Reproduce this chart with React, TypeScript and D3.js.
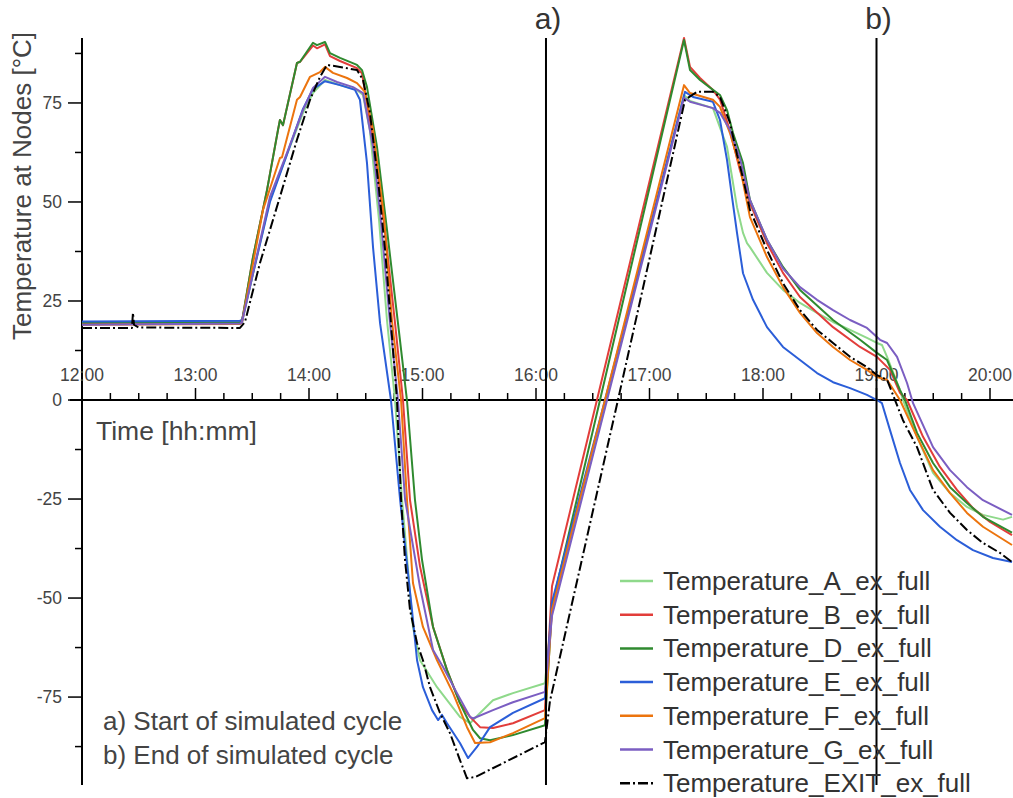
import React from "react";
import * as d3 from "d3";

// time in decimal hours, value in °C
const seriesA: [number, number][] = [
  [12.0, 19.4], [13.392, 19.5], [13.41, 19.7], [13.656, 50.5], [13.806, 62.0], [13.947, 72.5], [14.035, 77.5],
  [14.141, 80.8], [14.273, 79.5], [14.423, 78.3], [14.476, 77.0], [14.537, 68.0], [14.617, 45.5], [14.687, 20.2],
  [14.758, 0], [14.819, -25], [14.916, -57.3], [14.978, -65.7], [15.128, -72.5], [15.33, -80.0], [15.419, -81.6],
  [15.507, -79.0], [15.621, -75.8], [15.797, -74.0], [16.079, -71.5], [16.141, -53], [16.617, 0], [17.304, 77.0],
  [17.357, 75.5], [17.559, 73.7], [17.683, 63.9], [17.727, 56.3], [17.771, 48.7], [17.824, 42.2], [17.859, 39.6],
  [17.885, 38.6], [18.035, 32.1], [18.176, 27.8], [18.326, 24.5], [18.476, 22.0], [18.617, 19.7], [18.767, 17.7],
  [18.916, 15.7], [19.004, 14.4], [19.048, 13.9], [19.093, 10.9], [19.207, 2.5], [19.233, 0], [19.357, -9.3],
  [19.498, -18.4], [19.648, -23.5], [19.797, -27.0], [19.938, -29.0], [20.115, -30.2], [20.194, -29.5],
];

const seriesB: [number, number][] = [
  [12.0, 19.3], [13.392, 19.5], [13.41, 19.8], [13.507, 36.1], [13.63, 53.0], [13.727, 68.2], [13.744, 70.7],
  [13.771, 69.4], [13.894, 85.1], [13.921, 85.4], [14.035, 89.5], [14.07, 88.8], [14.141, 89.8], [14.185, 86.8],
  [14.273, 85.6], [14.423, 83.8], [14.467, 82.5], [14.493, 78.0], [14.581, 63.0], [14.67, 42.5], [14.758, 19.4],
  [14.828, 0], [14.89, -25.3], [14.978, -42], [15.093, -57.3], [15.216, -68.2], [15.33, -76.5], [15.419, -80.0],
  [15.507, -82.6], [15.621, -82.8], [15.797, -81.6], [16.079, -78.3], [16.141, -47], [16.537, 0], [17.304, 91.4],
  [17.357, 84.1], [17.445, 81.3], [17.559, 78.3], [17.621, 75.8], [17.709, 68], [17.797, 58], [17.885, 49.7],
  [18.035, 39.6], [18.176, 32.1], [18.326, 26.0], [18.617, 18.4], [18.855, 13.4], [19.004, 10.9], [19.119, 7.6],
  [19.207, 1.8], [19.269, 0], [19.41, -9.3], [19.559, -16.9], [19.709, -22.7], [19.85, -27.3], [20.0, -30.8],
  [20.194, -34.1],
];

const seriesD: [number, number][] = [
  [12.0, 19.5], [13.392, 19.7], [13.41, 20.0], [13.507, 36.1], [13.63, 53.0], [13.727, 68.2], [13.744, 70.7],
  [13.771, 69.4], [13.894, 85.1], [13.921, 85.4], [14.035, 90.2], [14.07, 89.6], [14.141, 90.4], [14.185, 87.6],
  [14.273, 86.4], [14.423, 84.6], [14.467, 83.3], [14.511, 79.0], [14.599, 63.9], [14.687, 43.0], [14.784, 19.4],
  [14.863, 0], [14.934, -25.3], [14.996, -40.4], [15.093, -57.3], [15.216, -68.2], [15.33, -76.5], [15.445, -83.3],
  [15.507, -85.4], [15.595, -85.9], [15.797, -84.6], [16.079, -82.1], [16.141, -52], [16.564, 0], [17.304, 90.9],
  [17.357, 83.3], [17.445, 80.8], [17.559, 78.3], [17.621, 77.0], [17.683, 73.2], [17.736, 67.4], [17.824, 59.8],
  [17.885, 50.5], [18.035, 40.4], [18.176, 33.6], [18.326, 27.8], [18.617, 20.2], [18.855, 15.2], [19.004, 11.9],
  [19.093, 10.1], [19.207, 2.5], [19.251, 0], [19.357, -8.3], [19.498, -15.9], [19.648, -22.0], [19.797, -26.0],
  [19.938, -29.5], [20.194, -33.5],
];

const seriesE: [number, number][] = [
  [12.0, 19.8], [13.392, 20.0], [13.41, 20.2], [13.656, 50.0], [13.806, 62.0], [13.947, 73.5], [14.035, 78.5],
  [14.141, 80.5], [14.273, 79.5], [14.405, 78.3], [14.449, 75.8], [14.511, 59.8], [14.564, 38.6], [14.626, 19.4],
  [14.722, 0], [14.802, -25], [14.907, -53.0], [14.952, -65.7], [15.004, -72.5], [15.084, -78.3], [15.137, -80.8],
  [15.172, -79.5], [15.216, -81.6], [15.33, -86.6], [15.401, -90.4], [15.48, -87.6], [15.595, -82.6], [15.797, -79.0],
  [16.079, -75.3], [16.141, -51], [16.608, 0], [17.313, 77.8], [17.383, 76.5], [17.559, 75.3], [17.621, 70.7],
  [17.683, 60.6], [17.727, 51.3], [17.771, 42.2], [17.824, 32.0], [17.912, 25.3], [18.035, 18.4], [18.176, 13.4],
  [18.326, 10.1], [18.476, 6.8], [18.617, 4.5], [18.767, 3.0], [18.916, 1.3], [19.004, 0], [19.048, -0.8],
  [19.119, -7.6], [19.207, -15.9], [19.295, -22.7], [19.41, -27.8], [19.559, -32.0], [19.709, -35.4], [19.85, -37.9],
  [20.026, -39.9], [20.194, -40.9],
];

const seriesF: [number, number][] = [
  [12.0, 19.0], [13.392, 19.2], [13.41, 19.6], [13.595, 48.0], [13.744, 61.1], [13.762, 61.3], [13.894, 75.8],
  [13.921, 76.5], [14.009, 81.6], [14.097, 82.8], [14.141, 84.1], [14.211, 82.6], [14.335, 81.3], [14.423, 80.0],
  [14.493, 77.8], [14.564, 68.2], [14.661, 46.2], [14.731, 20.0], [14.811, 0], [14.863, -25], [14.916, -46.2],
  [15.004, -57.3], [15.128, -65.7], [15.269, -74.0], [15.392, -82.6], [15.463, -86.6], [15.595, -86.4],
  [15.797, -84.1], [16.079, -80.3], [16.141, -53], [16.608, 0], [17.304, 79.5], [17.357, 77.5], [17.559, 75.8],
  [17.621, 74.0], [17.709, 67.4], [17.797, 58.8], [17.885, 46.2], [18.035, 36.1], [18.176, 28.5], [18.326, 22.0],
  [18.476, 16.9], [18.617, 13.4], [18.767, 10.1], [18.916, 7.6], [19.004, 5.8], [19.093, 5.1], [19.207, 0],
  [19.357, -9.3], [19.498, -17.7], [19.648, -23.5], [19.797, -28.5], [19.938, -32.0], [20.194, -36.6],
];

const seriesG: [number, number][] = [
  [12.0, 19.0], [13.392, 19.3], [13.41, 19.6], [13.656, 51.3], [13.806, 62.4], [13.947, 73.2], [14.035, 78.8],
  [14.141, 81.6], [14.247, 80.3], [14.388, 79.0], [14.476, 77.5], [14.564, 63.9], [14.634, 45.0], [14.714, 19.4],
  [14.784, 0], [14.846, -25], [14.978, -47.2], [15.093, -63.1], [15.181, -67.4], [15.304, -74.0], [15.419, -80.0],
  [15.445, -80.4], [15.621, -78.3], [15.797, -76.3], [16.079, -73.7], [16.141, -54.5], [16.626, 0], [17.304, 76.3],
  [17.357, 75.3], [17.559, 73.7], [17.621, 72.5], [17.709, 68.2], [17.797, 61.0], [17.885, 50.5], [18.035, 40.5],
  [18.176, 33.2], [18.326, 28.5], [18.476, 25.3], [18.617, 22.7], [18.767, 20.2], [18.916, 18.2], [19.031, 15.2],
  [19.093, 14.4], [19.181, 10.9], [19.269, 4.3], [19.322, -0.8], [19.498, -11.9], [19.648, -17.7], [19.797, -22.0],
  [19.938, -25.3], [20.194, -29.0],
];

const seriesExit: [number, number][] = [
  [12.0, 18.2], [12.44, 18.2], [12.449, 22.0], [12.458, 19.0], [12.5, 18.3], [13.392, 18.2], [13.436, 19.7],
  [13.568, 34.6], [13.744, 51.3], [13.894, 65.7], [14.009, 75.8], [14.097, 81.6], [14.159, 84.6], [14.273, 84.1],
  [14.423, 83.3], [14.476, 80.8], [14.537, 72.5], [14.608, 55.6], [14.67, 38.0], [14.722, 19.4], [14.775, 0],
  [14.811, -25], [14.846, -40.4], [14.89, -53.0], [14.952, -61.4], [15.004, -65.7], [15.066, -72.5], [15.154, -79.0],
  [15.242, -84.1], [15.33, -90.9], [15.392, -95.5], [15.463, -95.2], [16.079, -86.4], [16.123, -76], [16.722, 0],
  [17.313, 75.8], [17.419, 77.8], [17.559, 77.8], [17.621, 76.5], [17.709, 70.0], [17.771, 62], [17.824, 56],
  [17.885, 48.0], [18.035, 37.9], [18.176, 29.5], [18.326, 22.7], [18.476, 17.7], [18.617, 14.4], [18.767, 10.9],
  [18.916, 8.3], [19.004, 6.3], [19.093, 5.1], [19.163, 0], [19.233, -5.1], [19.357, -11.9], [19.498, -22.7],
  [19.648, -28.5], [19.797, -32.8], [19.938, -36.1], [20.088, -38.6], [20.194, -40.9],
];

const seriesNames = [
  "Temperature_A_ex_full",
  "Temperature_B_ex_full",
  "Temperature_D_ex_full",
  "Temperature_E_ex_full",
  "Temperature_F_ex_full",
  "Temperature_G_ex_full",
  "Temperature_EXIT_ex_full",
];
const seriesColors = ["#8fd98b", "#e23d3a", "#2f8a2f", "#2b5ed8", "#ec740e", "#7b5ec2", "#000000"];
const allSeries = [seriesA, seriesB, seriesD, seriesE, seriesF, seriesG, seriesExit];

const yMajorTicks = [-75, -50, -25, 0, 25, 50, 75];
const yMinorTicks = [-87.5, -62.5, -37.5, -12.5, 12.5, 37.5, 62.5, 87.5];
const xMajorTicks = [12, 13, 14, 15, 16, 17, 18, 19, 20];
const xTickLabels = ["12:00", "13:00", "14:00", "15:00", "16:00", "17:00", "18:00", "19:00", "20:00"];
const markerTimes = [16.088, 19.0];
const markerLabels = ["a)", "b)"];
const notes = ["a) Start of simulated cycle", "b) End of simulated cycle"];

const W = 1013;
const H = 798;
const FONT = "'Liberation Sans', Arial, sans-serif";

export default function App() {
  const x = d3.scaleLinear().domain([12, 20.2]).range([82, 82 + 8.2 * 113.5]);
  const y = d3.scaleLinear().domain([-97.2, 91.4]).range([785, 38]);
  const line = d3
    .line<[number, number]>()
    .x((d) => x(d[0]))
    .y((d) => y(d[1]));

  const xMinor: number[] = [];
  for (let t = 12.25; x(t) <= W; t += 0.25) {
    if (Math.abs(t - Math.round(t)) > 0.01) xMinor.push(t);
  }

  return (
    <svg
      width={W}
      height={H}
      style={{ position: "absolute", left: 0, top: 0, background: "#fff" }}
      fontFamily={FONT}
    >
      <rect x={0} y={0} width={W} height={H} fill="#fff" />
      <defs>
        <clipPath id="plotclip">
          <rect x={82} y={0} width={W - 82} height={790} />
        </clipPath>
      </defs>

      {/* y axis */}
      <line x1={82} x2={82} y1={38} y2={785} stroke="#000" strokeWidth={2} />
      {yMajorTicks.map((v) => (
        <g key={"ym" + v}>
          <line x1={68} x2={82} y1={y(v)} y2={y(v)} stroke="#000" strokeWidth={1.5} />
          <text x={62} y={y(v)} dy="0.35em" textAnchor="end" fontSize={17.5} fill="#444">
            {v}
          </text>
        </g>
      ))}
      {yMinorTicks.map((v) => (
        <line key={"yn" + v} x1={75} x2={82} y1={y(v)} y2={y(v)} stroke="#000" strokeWidth={1.5} />
      ))}

      {/* x axis */}
      <line x1={70} x2={W} y1={y(0)} y2={y(0)} stroke="#000" strokeWidth={2} />
      {xMajorTicks.map((t, i) => (
        <g key={"xm" + t}>
          <line x1={x(t)} x2={x(t)} y1={y(0) - 12} y2={y(0)} stroke="#000" strokeWidth={1.5} />
          <text x={x(t)} y={381} textAnchor="middle" fontSize={17.5} fill="#444">
            {xTickLabels[i]}
          </text>
        </g>
      ))}
      {xMinor.map((t) => (
        <line key={"xn" + t} x1={x(t)} x2={x(t)} y1={y(0) - 7} y2={y(0)} stroke="#000" strokeWidth={1.5} />
      ))}

      <text
        transform={`translate(31, 186) rotate(-90)`}
        textAnchor="middle"
        fontSize={26}
        fill="#444"
      >
        Temperature at Nodes [°C]
      </text>
      <text x={96} y={440} fontSize={26.5} fill="#444">
        Time [hh:mm]
      </text>

      {/* series */}
      <g clipPath="url(#plotclip)">
        {allSeries.map((s, i) => (
          <path
            key={seriesNames[i]}
            d={line(s) || ""}
            fill="none"
            stroke={seriesColors[i]}
            strokeWidth={2}
            strokeDasharray={i === 6 ? "10,3,2,3" : undefined}
            strokeLinejoin="round"
          />
        ))}
      </g>

      {/* markers */}
      {markerTimes.map((t, i) => (
        <g key={"mk" + i}>
          <line x1={x(t)} x2={x(t)} y1={38} y2={785} stroke="#000" strokeWidth={2} />
          <text x={x(t) + 2} y={29} textAnchor="middle" fontSize={30} fill="#333">
            {markerLabels[i]}
          </text>
        </g>
      ))}

      {/* notes */}
      {notes.map((n, i) => (
        <text key={n} x={103} y={730 + i * 34} fontSize={26} fill="#444">
          {n}
        </text>
      ))}

      {/* legend */}
      {seriesNames.map((n, i) => {
        const cy = 581 + i * 33.7;
        return (
          <g key={"lg" + n}>
            <line
              x1={620}
              x2={653}
              y1={cy}
              y2={cy}
              stroke={seriesColors[i]}
              strokeWidth={2.5}
              strokeDasharray={i === 6 ? "10,3,2,3" : undefined}
            />
            <text x={663} y={cy + 9} fontSize={26} fill="#333">
              {n}
            </text>
          </g>
        );
      })}
    </svg>
  );
}
